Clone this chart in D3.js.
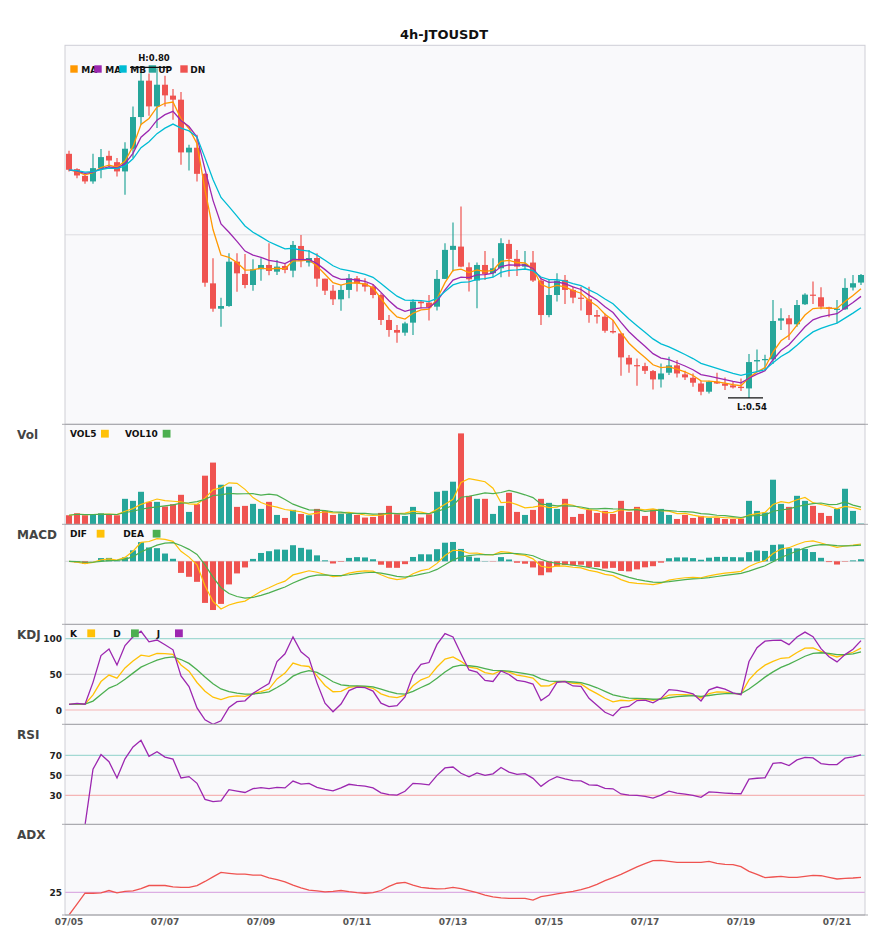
<!DOCTYPE html>
<html><head><meta charset="utf-8">
<script src="https://cdn.jsdelivr.net/npm/d3@7"></script>
<style>body{margin:0;background:#fff;} text{font-family:"DejaVu Sans",sans-serif;}</style>
</head><body><svg id="c" width="885" height="950"></svg>
<script>
// ---------- data ----------
const title = "4h-JTOUSDT";
const tickLabels = ["07/05","07/07","07/09","07/11","07/13","07/15","07/17","07/19","07/21"];
const tickEvery = 12; // 4h candles -> 2 days
const opens = [0.7326,0.7205,0.7152,0.7108,0.7213,0.7310,0.7260,0.7187,0.7366,0.7616,
0.7903,0.7700,0.7871,0.7785,0.7753,0.7337,0.7374,0.7168,0.6304,0.6104,
0.6125,0.6475,0.6378,0.6291,0.6415,0.6449,0.6396,0.6441,0.6404,0.6599,
0.6468,0.6504,0.6341,0.6246,0.6178,0.6252,0.6344,0.6304,0.6278,0.6212,
0.6015,0.5936,0.5915,0.5994,0.6160,0.6152,0.6120,0.6339,0.6568,0.6594,
0.6431,0.6326,0.6449,0.6384,0.6423,0.6615,0.6497,0.6436,0.6468,0.6326,
0.6054,0.6212,0.6331,0.6252,0.6191,0.6178,0.6054,0.6041,0.5928,0.5909,
0.5717,0.5659,0.5651,0.5612,0.5546,0.5599,0.5657,0.5586,0.5559,0.5514,
0.5449,0.5528,0.5514,0.5499,0.5488,0.5475,0.5688,0.5702,0.5704,0.6010,
0.6028,0.5981,0.6139,0.6215,0.6194,0.6115,0.6099,0.6099,0.6271,0.6310];
const closes = [0.7200,0.7155,0.7108,0.7213,0.7300,0.7273,0.7187,0.7366,0.7616,0.7903,
0.7700,0.7871,0.7787,0.7753,0.7337,0.7374,0.7168,0.6309,0.6104,0.6125,
0.6475,0.6383,0.6291,0.6415,0.6449,0.6402,0.6436,0.6410,0.6607,0.6483,
0.6504,0.6341,0.6246,0.6178,0.6252,0.6344,0.6304,0.6278,0.6212,0.6015,
0.5936,0.5915,0.5988,0.6160,0.6147,0.6115,0.6339,0.6568,0.6600,0.6436,
0.6336,0.6449,0.6378,0.6423,0.6621,0.6497,0.6436,0.6457,0.6326,0.6054,
0.6212,0.6326,0.6252,0.6191,0.6183,0.6054,0.6041,0.5930,0.5917,0.5720,
0.5664,0.5654,0.5614,0.5546,0.5593,0.5657,0.5593,0.5562,0.5520,0.5449,
0.5528,0.5514,0.5496,0.5483,0.5478,0.5683,0.5699,0.5707,0.6007,0.6028,
0.5981,0.6133,0.6215,0.6207,0.6120,0.6102,0.6104,0.6268,0.6305,0.6370];
const highs = [0.7350,0.7213,0.7160,0.7326,0.7363,0.7350,0.7292,0.7418,0.7700,0.7969,
0.7960,0.8000,0.7942,0.7837,0.7813,0.7397,0.7476,0.7173,0.6502,0.6191,
0.6541,0.6541,0.6536,0.6494,0.6502,0.6620,0.6489,0.6457,0.6639,0.6686,
0.6568,0.6541,0.6341,0.6291,0.6291,0.6378,0.6362,0.6344,0.6299,0.6225,
0.6054,0.5975,0.6002,0.6178,0.6168,0.6212,0.6410,0.6621,0.6784,0.6910,
0.6468,0.6468,0.6560,0.6502,0.6660,0.6647,0.6568,0.6560,0.6560,0.6352,
0.6336,0.6384,0.6370,0.6278,0.6278,0.6278,0.6094,0.6067,0.6015,0.5909,
0.5738,0.5712,0.5678,0.5620,0.5672,0.5725,0.5699,0.5614,0.5593,0.5535,
0.5535,0.5599,0.5562,0.5528,0.5554,0.5746,0.5783,0.5741,0.6173,0.6107,
0.6054,0.6173,0.6226,0.6318,0.6273,0.6120,0.6173,0.6344,0.6370,0.6378];
const lows = [0.7187,0.7134,0.7089,0.7089,0.7134,0.7221,0.7147,0.7002,0.7292,0.7555,
0.7626,0.7529,0.7700,0.7595,0.7239,0.7194,0.7108,0.6278,0.6080,0.5962,
0.6120,0.6238,0.6265,0.6246,0.6325,0.6368,0.6370,0.6383,0.6352,0.6431,
0.6436,0.6278,0.6212,0.6133,0.6088,0.6186,0.6239,0.6239,0.6186,0.5975,
0.5883,0.5836,0.5891,0.5896,0.6107,0.6010,0.6089,0.6339,0.6397,0.6431,
0.6239,0.6107,0.6331,0.6352,0.6352,0.6357,0.6362,0.6410,0.6315,0.5975,
0.6036,0.6160,0.6141,0.6147,0.6089,0.5994,0.5988,0.5915,0.5909,0.5575,
0.5599,0.5496,0.5588,0.5467,0.5483,0.5580,0.5562,0.5541,0.5488,0.5422,
0.5435,0.5509,0.5462,0.5475,0.5454,0.5400,0.5607,0.5615,0.5667,0.5936,
0.5857,0.5962,0.6133,0.6141,0.6099,0.6036,0.5989,0.6094,0.6247,0.6291];
const volumes = [90,110,90,100,110,93,90,253,233,323,
223,223,177,200,293,123,200,483,613,393,
373,173,183,203,153,223,93,63,143,103,
90,153,133,93,107,103,93,67,73,113,
183,100,83,173,67,100,323,333,423,903,
283,253,253,103,183,313,123,93,143,253,
213,153,253,73,103,143,113,133,103,233,
123,173,83,150,153,93,53,93,63,83,
63,63,53,53,57,233,133,117,443,203,
173,283,233,183,113,83,153,353,133,7];
const adxValues = [0,12,24,24,24.5,27,24.5,26,26.5,29,
32.5,32.5,32.5,31,30.5,30.5,32.5,37,42,47,
46,45,45,44,44,41,39,36.5,33,30,
27.5,26.5,25.5,26,27,25.7,24.6,24,24.6,27,
31.5,35,36,33,30.5,29.5,28.7,29,30.5,29,
27,24.6,22,20,18.8,18.4,18.4,18.4,16.5,20.2,
21.7,23.2,24.6,26.1,27.9,30.5,33.8,37.8,41.2,44.8,
48.9,53,56.6,59.9,60.3,59.2,58.1,58.1,58.1,58.1,
59.2,57,55.9,55.5,53.3,48.1,44.8,41.2,41.9,42.6,
41.5,41.5,42.6,43.7,43.3,41.5,39.7,40.4,40.8,41.5];
const maSpans = [5,8,13];
const maLabels = ["MA","MA","MB"];
const volMaPeriods = [5,10];
const macdSpans = [6,13,5];
const macdHistFactor = 2;
const kdjRefs = [100,50,0];
const rsiRefs = [70,50,30];
const adxRefs = [25];

// ---------- indicator helpers ----------
function ema(arr, span){ const a=2/(span+1); let p; return arr.map((v,i)=>{p = i===0? v : p + a*(v-p); return p;}); }
function sma(arr, p){ return arr.map((v,i)=>d3.mean(arr.slice(Math.max(0,i-p+1), i+1))); }

const n = closes.length;
const idx = d3.range(n);
const maLines = maSpans.map(s=>ema(closes,s));
const volMas = volMaPeriods.map(p=>sma(volumes,p));
const eF = ema(closes,macdSpans[0]), eS = ema(closes,macdSpans[1]);
const dif = idx.map(i=>eF[i]-eS[i]);
const dea = ema(dif,macdSpans[2]);
const hist = idx.map(i=>macdHistFactor*(dif[i]-dea[i]));
// KDJ 9,3,3
const rsv = idx.map(i=>{const lo=d3.min(lows.slice(Math.max(0,i-8),i+1)), hi=d3.max(highs.slice(Math.max(0,i-8),i+1)); return hi===lo?50:(closes[i]-lo)/(hi-lo)*100;});
const K=[],D=[],J=[];
idx.forEach(i=>{K[i]= i===0? rsv[0] : K[i-1]*2/3 + rsv[i]/3; D[i]= i===0? K[0] : D[i-1]*2/3 + K[i]/3; J[i]=3*K[i]-2*D[i];});
// RSI 14 (wilder ewm)
const rsi=[null]; {const a=1/14; let u=0,d=0; for(let i=1;i<n;i++){const ch=closes[i]-closes[i-1]; u=u*(1-a)+Math.max(ch,0); d=d*(1-a)+Math.max(-ch,0); rsi.push(u+d===0?50:100*u/(u+d));}}

// ---------- layout ----------
const L=65, R=865;
const P = {main:[45.3,424.3], vol:[424.3,524.3], macd:[524.3,624.3], kdj:[624.3,724.3], rsi:[724.3,824.3], adx:[824.3,915]};
const C = {up:"#26a69a", dn:"#ef5350", orange:"#ff9800", purple:"#9c27b0", cyan:"#00bcd4", yellow:"#ffc107", green:"#4caf50"};
const svg = d3.select("#c");
const x = d3.scaleBand().domain(idx).range([L,R]).paddingInner(0.25).paddingOuter(0.125);
const cx = i => x(i) + x.bandwidth()/2;
const bw = x.bandwidth();

// backgrounds
Object.entries(P).forEach(([k,[t,b]])=>{
  svg.append("rect").attr("x",L).attr("y",t).attr("width",R-L).attr("height",b-t).attr("fill","#f9f9fb");
  svg.append("clipPath").attr("id","clip-"+k).append("rect").attr("x",L).attr("y",t).attr("width",R-L).attr("height",b-t);
});

// title
svg.append("text").attr("x",444).attr("y",39).attr("text-anchor","middle").attr("font-size",13).attr("font-weight","bold").attr("fill","#111").text(title);

// ---------- main ----------
const pmin = d3.min(lows), pmax = d3.max(highs), pr = pmax-pmin;
const y = d3.scaleLinear().domain([pmin-0.08*pr, pmax+0.07*pr]).range([P.main[1],P.main[0]]);
svg.append("line").attr("x1",L).attr("x2",R).attr("y1",(P.main[0]+P.main[1])/2).attr("y2",(P.main[0]+P.main[1])/2).attr("stroke","#dddde2");
const gm = svg.append("g").attr("clip-path","url(#clip-main)");
idx.forEach(i=>{
  const col = closes[i]>=opens[i]?C.up:C.dn;
  gm.append("line").attr("x1",cx(i)).attr("x2",cx(i)).attr("y1",y(highs[i])).attr("y2",y(lows[i])).attr("stroke",col).attr("stroke-width",1.2);
  const top=y(Math.max(opens[i],closes[i])), bot=y(Math.min(opens[i],closes[i]));
  gm.append("rect").attr("x",x(i)).attr("y",top).attr("width",bw).attr("height",Math.max(1.2,bot-top)).attr("fill",col);
});
const maCols=[C.orange,C.purple,C.cyan];
maLines.forEach((arr,k)=>{
  gm.append("path").datum(arr).attr("fill","none").attr("stroke",maCols[k]).attr("stroke-width",1.3)
    .attr("d",d3.line().x((d,i)=>cx(i)).y(d=>y(d)));
});
// legend
const legItems=[[70.3,81.3,C.orange,maLabels[0]],[94.3,105.3,C.purple,maLabels[1]],[119.3,130.3,C.cyan,maLabels[2]],[148.7,158.3,C.up,"UP"],[180.3,190.3,C.dn,"DN"]];
legItems.forEach(([sx,tx,col,lab])=>{
  svg.append("text").attr("x",tx).attr("y",72.8).attr("font-size",9).attr("font-weight","bold").attr("fill","#111").text(lab);
});
legItems.forEach(([sx,tx,col,lab])=>{
  svg.append("rect").attr("x",sx).attr("y",65.3).attr("width",7.4).attr("height",7.4).attr("fill",col);
});
// H / L marks
const hi = d3.maxIndex(highs), lo = d3.minIndex(lows);
svg.append("line").attr("x1",cx(hi)-27).attr("x2",cx(hi)+13).attr("y1",y(highs[hi])-1).attr("y2",y(highs[hi])-1).attr("stroke","#111").attr("stroke-width",1.2);
svg.append("text").attr("x",cx(hi)-3).attr("y",y(highs[hi])-7.5).attr("text-anchor","middle").attr("font-size",8.5).attr("font-weight","bold").attr("fill","#111").text("H:"+highs[hi].toFixed(2));
svg.append("line").attr("x1",cx(lo)-21).attr("x2",cx(lo)+14).attr("y1",y(lows[lo])).attr("y2",y(lows[lo])).attr("stroke","#111").attr("stroke-width",1.2);
svg.append("text").attr("x",cx(lo)+3).attr("y",y(lows[lo])+12.5).attr("text-anchor","middle").attr("font-size",8.5).attr("font-weight","bold").attr("fill","#111").text("L:"+lows[lo].toFixed(2));

// ---------- volume ----------
const yv = d3.scaleLinear().domain([0,d3.max(volumes)*1.1]).range([P.vol[1],P.vol[0]]);
const gv = svg.append("g").attr("clip-path","url(#clip-vol)");
idx.forEach(i=>{
  gv.append("rect").attr("x",x(i)).attr("y",yv(volumes[i])).attr("width",bw).attr("height",yv(0)-yv(volumes[i])).attr("fill",closes[i]>=opens[i]?C.up:C.dn);
});
[C.yellow,C.green].forEach((col,k)=>{
  gv.append("path").datum(volMas[k]).attr("fill","none").attr("stroke",col).attr("stroke-width",1.2).attr("d",d3.line().x((d,i)=>cx(i)).y(d=>yv(d)));
});

// ---------- MACD ----------
const mext = d3.extent([...dif,...dea,...hist]); const mr = mext[1]-mext[0];
const ym = d3.scaleLinear().domain([mext[0]-0.2*mr, mext[1]+0.2*mr]).range([P.macd[1],P.macd[0]]);
svg.append("line").attr("x1",L).attr("x2",R).attr("y1",ym(0)).attr("y2",ym(0)).attr("stroke","#d8d8dc");
const gmc = svg.append("g").attr("clip-path","url(#clip-macd)");
idx.forEach(i=>{
  const v=hist[i];
  gmc.append("rect").attr("x",x(i)).attr("y",Math.min(ym(v),ym(0))).attr("width",bw).attr("height",Math.abs(ym(v)-ym(0))).attr("fill",v>=0?C.up:C.dn);
});
[[dif,C.yellow],[dea,C.green]].forEach(([arr,col])=>{
  gmc.append("path").datum(arr).attr("fill","none").attr("stroke",col).attr("stroke-width",1.2).attr("d",d3.line().x((d,i)=>cx(i)).y(d=>ym(d)));
});

// ---------- KDJ ----------
const yk = d3.scaleLinear().domain([-20,120]).range([P.kdj[1],P.kdj[0]]);
const refCol = v => v>=70? "#a3d9d3" : (v<=30? "#f5b5b5" : "#d0d0d4");
kdjRefs.forEach(v=>{
  svg.append("line").attr("x1",L).attr("x2",R).attr("y1",yk(v)).attr("y2",yk(v)).attr("stroke",v===100?"#a3d9d3":(v===0?"#f5b5b5":"#d0d0d4")).attr("stroke-width",1.2);
  svg.append("text").attr("x",62).attr("y",yk(v)+3.5).attr("text-anchor","end").attr("font-size",9).attr("font-weight","bold").attr("fill","#222").text(v);
});
const gk = svg.append("g").attr("clip-path","url(#clip-kdj)");
[[K,C.yellow],[D,C.green],[J,C.purple]].forEach(([arr,col])=>{
  gk.append("path").datum(arr).attr("fill","none").attr("stroke",col).attr("stroke-width",1.3).attr("d",d3.line().x((d,i)=>cx(i)).y(d=>yk(d)));
});

// ---------- RSI ----------
const yr = d3.scaleLinear().domain([0,100]).range([P.rsi[1]+1,P.rsi[0]+1]);
rsiRefs.forEach(v=>{
  svg.append("line").attr("x1",L).attr("x2",R).attr("y1",yr(v)).attr("y2",yr(v)).attr("stroke",refCol(v)).attr("stroke-width",1.2);
  svg.append("text").attr("x",62).attr("y",yr(v)+3.5).attr("text-anchor","end").attr("font-size",9).attr("font-weight","bold").attr("fill","#222").text(v);
});
const gr = svg.append("g").attr("clip-path","url(#clip-rsi)");
gr.append("path").datum(rsi).attr("fill","none").attr("stroke",C.purple).attr("stroke-width",1.3)
  .attr("d",d3.line().defined(d=>d!==null).x((d,i)=>cx(i)).y(d=>yr(d)));

// ---------- ADX ----------
const ya = d3.scaleLinear().domain([0,100]).range([P.adx[1],P.adx[0]]);
adxRefs.forEach(v=>{
  svg.append("line").attr("x1",L).attr("x2",R).attr("y1",ya(v)).attr("y2",ya(v)).attr("stroke","#dcaee3").attr("stroke-width",1.2);
  svg.append("text").attr("x",62).attr("y",ya(v)+3.5).attr("text-anchor","end").attr("font-size",9).attr("font-weight","bold").attr("fill","#222").text(v);
});
const ga = svg.append("g").attr("clip-path","url(#clip-adx)");
ga.append("path").datum(adxValues).attr("fill","none").attr("stroke","#ef5350").attr("stroke-width",1.3)
  .attr("d",d3.line().x((d,i)=>cx(i)).y(d=>ya(d)));

// ---------- frames ----------
svg.append("rect").attr("x",L).attr("y",P.main[0]).attr("width",R-L).attr("height",P.main[1]-P.main[0]).attr("fill","none").attr("stroke","#cfcfd6");
["vol","macd","kdj","rsi","adx"].forEach(k=>{
  const [t,b]=P[k];
  svg.append("line").attr("x1",L).attr("x2",L).attr("y1",t).attr("y2",b).attr("stroke","#cfcfd6");
  svg.append("line").attr("x1",R).attr("x2",R).attr("y1",t).attr("y2",b).attr("stroke","#cfcfd6");
});
[P.vol[0],P.macd[0],P.kdj[0],P.rsi[0],P.adx[0],P.adx[1]].forEach(yy=>{
  svg.append("line").attr("x1",L).attr("x2",R).attr("y1",yy).attr("y2",yy).attr("stroke","#ababb0").attr("stroke-width",1.3);
  svg.append("line").attr("x1",L-3).attr("x2",L).attr("y1",yy).attr("y2",yy).attr("stroke","#ababb0");
  svg.append("line").attr("x1",R).attr("x2",R+3).attr("y1",yy).attr("y2",yy).attr("stroke","#ababb0");
});

// panel titles
[["Vol",P.vol[0]],["MACD",P.macd[0]],["KDJ",P.kdj[0]],["RSI",P.rsi[0]],["ADX",P.adx[0]]].forEach(([t,yy])=>{
  svg.append("text").attr("x",17).attr("y",yy+15).attr("font-size",12).attr("font-weight","bold").attr("fill","#444").text(t);
});
// sub legends
function subLegend(items, yc){
  items.forEach(([tx,lab,sx,col])=>{
    svg.append("text").attr("x",tx).attr("y",yc+3.3).attr("font-size",9).attr("font-weight","bold").attr("fill","#111").text(lab);
    svg.append("rect").attr("x",sx).attr("y",yc-3.9).attr("width",7.8).attr("height",7.8).attr("fill",col);
  });
}
subLegend([[70,"VOL5",101,C.yellow],[125,"VOL10",162.7,C.green]], 433.7);
subLegend([[70,"DIF",96.7,C.yellow],[123.3,"DEA",152.7,C.green]], 533.7);
subLegend([[70,"K",87.3,C.yellow],[113.3,"D",131,C.green],[156.7,"J",175,C.purple]], 633.3);

// x axis
const xa = svg.append("g");
tickLabels.forEach((t,k)=>{
  xa.append("text").attr("x",cx(k*tickEvery)).attr("y",925).attr("text-anchor","middle").attr("font-size",9).attr("font-weight","bold").attr("fill","#555").text(t);
});
</script></body></html>
